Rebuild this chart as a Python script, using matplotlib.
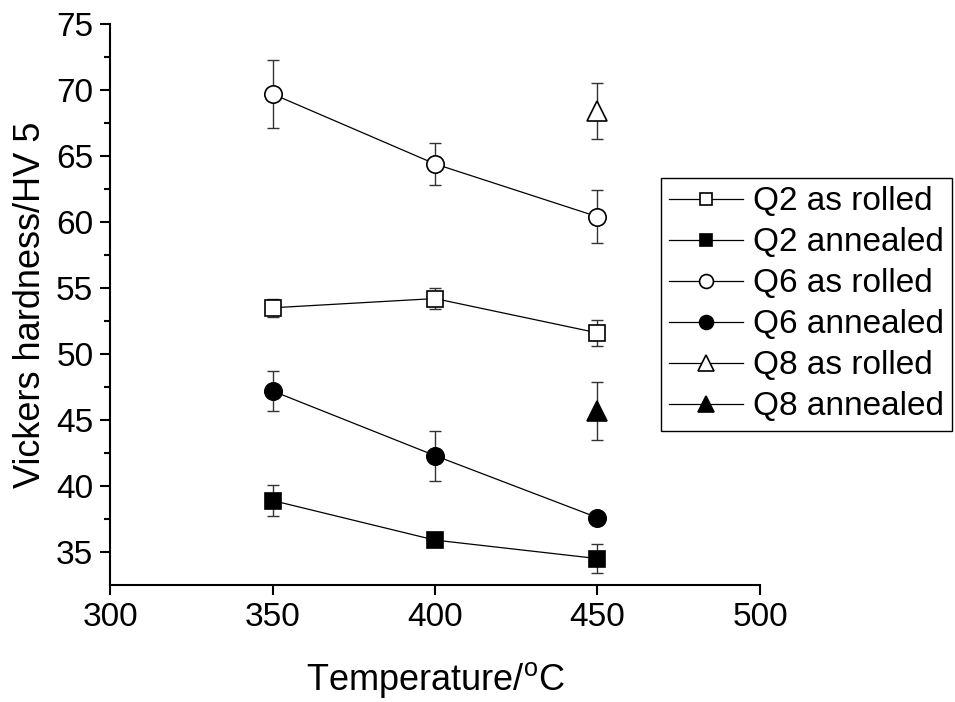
import numpy as np
import matplotlib
matplotlib.use('Agg')
import matplotlib.pyplot as plt

plt.rcParams['font.family'] = ['Liberation Sans', 'DejaVu Sans']

# data
temps = [350, 400, 450]
q2_rolled = [53.5, 54.2, 51.6]
q2_rolled_err = [0.7, 0.8, 1.0]
q2_annealed = [38.9, 35.9, 34.5]
q2_annealed_err = [1.2, 0.0, 1.1]
q6_rolled = [69.7, 64.4, 60.4]
q6_rolled_err = [2.6, 1.6, 2.0]
q6_annealed = [47.2, 42.3, 37.6]
q6_annealed_err = [1.5, 1.9, 0.0]
q8_temp = [450]
q8_rolled = [68.4]
q8_rolled_err = [2.1]
q8_annealed = [45.7]
q8_annealed_err = [2.2]

labels = ['Q2 as rolled', 'Q2 annealed', 'Q6 as rolled', 'Q6 annealed',
          'Q8 as rolled', 'Q8 annealed']

fig = plt.figure(figsize=(9.55, 7.02), dpi=100)
ax = fig.add_axes([0.1152, 0.1667, 0.6806, 0.7991])

series = [
    (temps, q2_rolled, q2_rolled_err, 's', 'white', 11),
    (temps, q2_annealed, q2_annealed_err, 's', 'black', 11),
    (temps, q6_rolled, q6_rolled_err, 'o', 'white', 12.5),
    (temps, q6_annealed, q6_annealed_err, 'o', 'black', 12.5),
    (q8_temp, q8_rolled, q8_rolled_err, '^', 'white', 14),
    (q8_temp, q8_annealed, q8_annealed_err, '^', 'black', 14),
]

handles = []
for (x, y, e, m, fc, ms), lab in zip(series, labels):
    ax.errorbar(x, y, yerr=e, fmt='none', ecolor='#333333', elinewidth=1.0,
                capsize=4, capthick=1.0, zorder=2)
    h, = ax.plot(x, y, '-', color='black', lw=0.9, marker=m, ms=ms,
                 mfc=fc, mec='black', mew=1.2, label=lab, zorder=3)
    handles.append(h)

ax.set_xlim(300, 500)
ax.set_ylim(32.5, 75)
ax.set_xticks([300, 350, 400, 450, 500])
ax.set_yticks([35, 40, 45, 50, 55, 60, 65, 70, 75])
ax.set_yticks(np.arange(37.5, 75, 5), minor=True)

for s in ['top', 'right']:
    ax.spines[s].set_visible(False)
for s in ['left', 'bottom']:
    ax.spines[s].set_linewidth(1.5)

ax.tick_params(which='major', direction='out', length=7, width=1.5,
               labelsize=24, pad=5)
ax.tick_params(which='minor', direction='out', length=4, width=1.5)

ax.set_xlabel('Temperature/$\\mathregular{^{o}}$C', fontsize=26, labelpad=20)
ax.set_ylabel('Vickers hardness/HV 5', fontsize=26, labelpad=6)

leg = fig.legend(handles=handles, loc='upper left',
                 bbox_to_anchor=(661 / 955, 1 - 178 / 702),
                 fontsize=24, frameon=True, fancybox=False, framealpha=1,
                 edgecolor='black', handlelength=2.2, handletextpad=0.3,
                 labelspacing=0.3, borderpad=0.25, borderaxespad=0,
                 markerscale=0.8)
leg.get_frame().set_linewidth(1.0)

fig.savefig('out.png', dpi=100)
